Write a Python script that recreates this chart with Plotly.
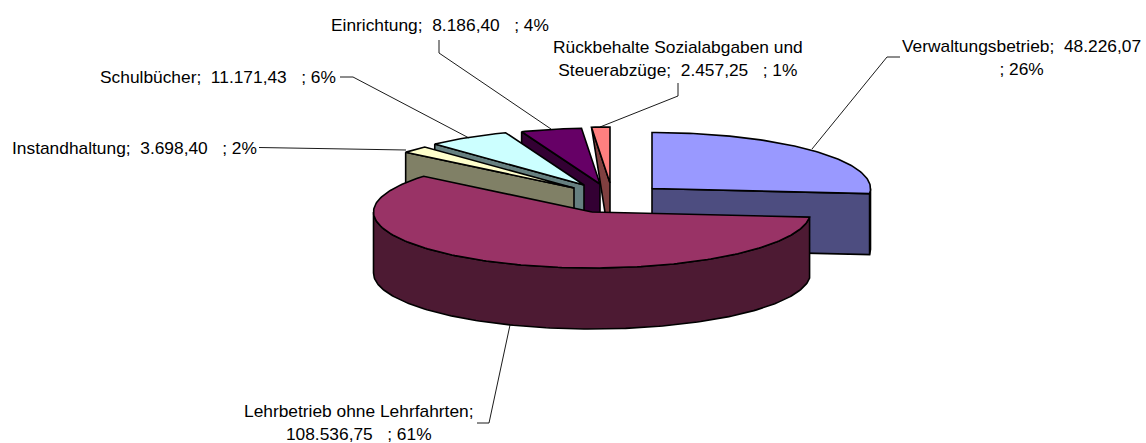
import math
import plotly.graph_objects as go

categories = ["Verwaltungsbetrieb", "Lehrbetrieb ohne Lehrfahrten", "Instandhaltung",
              "Schulbücher", "Einrichtung", "Rückbehalte Sozialabgaben und Steuerabzüge"]
values = [48226.07, 108536.75, 3698.40, 11171.43, 8186.40, 2457.25]
percent_labels = [26, 61, 2, 6, 4, 1]

top_colors = ["#9999FF", "#993366", "#FFFFCC", "#CCFFFF", "#660066", "#FF8080"]
wall_colors = ["#4D4D80", "#4D1A33", "#808066", "#668080", "#330033", "#804040"]

# Exploded wedge apex for each slice (layout, pixels)
apex_x = [652, 592, 574, 584, 600, 610]
apex_y = [188.5, 212, 188, 185, 184, 183]
RX, RY, DEPTH = 218.5, 56, 61
paint_order = [5, 4, 3, 2, 0, 1]
wall_outer_shift = [0, 0, 0, 0, 0, 10]

label_text = [
    "Verwaltungsbetrieb;  {v}<br>; {p}%",
    "Lehrbetrieb ohne Lehrfahrten;<br>{v}   ; {p}%",
    "Instandhaltung;  {v}   ; {p}%",
    "Schulbücher;  {v}   ; {p}%",
    "Einrichtung;  {v}   ; {p}%",
    "Rückbehalte Sozialabgaben und<br>Steuerabzüge;  {v}   ; {p}%",
]
label_x = [1021, 358.5, 134.5, 217.5, 440, 678]
label_y = [57.5, 422, 147.5, 77, 25, 58]

leaders = [
    ([900, 887, 812], [57, 57, 149]),
    ([477, 489, 510], [423, 423, 325]),
    ([259, 406], [147.5, 150]),
    ([340, 353, 469], [77, 77, 138]),
    ([439, 439, 551], [40, 53, 129]),
    ([678, 678, 600], [83, 96, 127]),
]


def german(v):
    return f"{v:,.2f}".replace(",", "X").replace(".", ",").replace("X", ".")


def pt(i, deg, drop=0.0):
    a = math.radians(deg)
    return apex_x[i] + RX * math.sin(a), apex_y[i] - RY * math.cos(a) + drop


def arc(i, a0, a1, drop=0.0):
    n = max(2, int(abs(a1 - a0)) + 2)
    return [pt(i, a0 + (a1 - a0) * k / (n - 1), drop) for k in range(n)]


def poly(pts, color):
    xs = [p[0] for p in pts] + [pts[0][0]]
    ys = [p[1] for p in pts] + [pts[0][1]]
    return go.Scatter(x=xs, y=ys, mode="lines", fill="toself", fillcolor=color,
                      line=dict(color="black", width=1.6), hoverinfo="skip", showlegend=False)


total = sum(values)
edges = [0.0]
for v in values:
    edges.append(edges[-1] + v / total * 360)

fig = go.Figure()
for i in paint_order:
    a0, a1 = edges[i], edges[i + 1]
    ax, ay = apex_x[i], apex_y[i]
    # outer rim facing the viewer
    lo, hi = max(a0, 90), min(a1, 270)
    if hi > lo:
        fig.add_trace(poly(arc(i, lo, hi) + arc(i, hi, lo, DEPTH), wall_colors[i]))
    # cut face turned towards the viewer
    if a1 <= 180:
        a = a1
        face = [pt(i, a), (ax, ay), (ax, ay + DEPTH), pt(i, a, DEPTH)]
        fig.add_trace(poly(face, wall_colors[i]))
    if a0 >= 180:
        x0, y0 = pt(i, a0, DEPTH)
        face = [pt(i, a0), (ax, ay), (ax, ay + DEPTH), (x0 + wall_outer_shift[i], y0)]
        fig.add_trace(poly(face, wall_colors[i]))
    # top surface
    fig.add_trace(poly([(ax, ay)] + arc(i, a0, a1), top_colors[i]))

for lx, ly in leaders:
    fig.add_trace(go.Scatter(x=lx, y=ly, mode="lines", line=dict(color="black", width=0.9),
                             hoverinfo="skip", showlegend=False))

for i, t in enumerate(label_text):
    fig.add_annotation(x=label_x[i], y=label_y[i], xref="x", yref="y", showarrow=False,
                       text=t.format(v=german(values[i]), p=percent_labels[i]),
                       align="center", xanchor="center", yanchor="middle")

fig.update_layout(
    width=1146, height=443, margin=dict(l=0, r=0, t=0, b=0),
    paper_bgcolor="white", plot_bgcolor="white",
    font=dict(family="Liberation Sans, Arial, sans-serif", size=17.35, color="black"),
    xaxis=dict(range=[0, 1146], visible=False, fixedrange=True),
    yaxis=dict(range=[443, 0], visible=False, fixedrange=True),
    showlegend=False,
)
fig.write_html("out.html", config={"displayModeBar": False},
               post_script="document.body.style.margin='0';document.body.style.overflow='hidden';")
